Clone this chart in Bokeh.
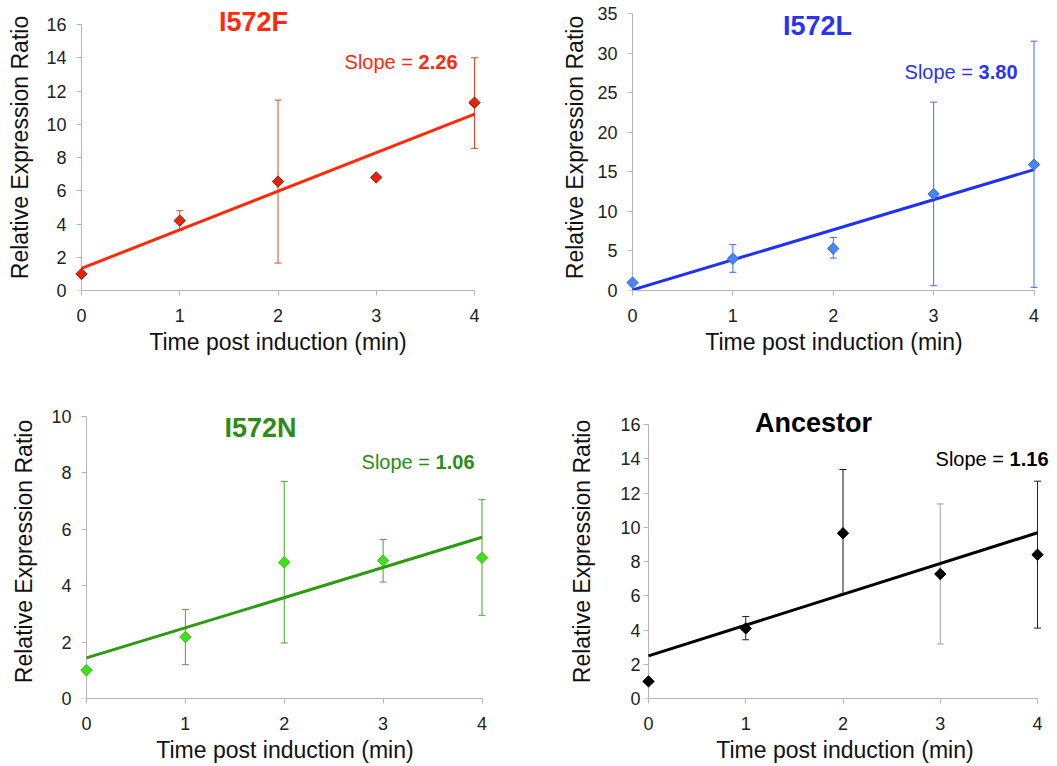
import numpy as np
from bokeh.plotting import figure
from bokeh.models import ColumnDataSource, Label, FixedTicker, Range1d, LinearAxis
from bokeh.layouts import column, row
from bokeh.embed import file_html
from bokeh.resources import INLINE

# ---------------- data ----------------
time_min = [0, 1, 2, 3, 4]

i572f_ratio = [1.0, 4.2, 6.55, 6.8, 11.3]
i572f_err_hi = [None, 4.8, 11.45, None, 14.0]
i572f_err_lo = [None, 3.6, 1.65, None, 8.55]

i572l_ratio = [1.0, 4.0, 5.3, 12.2, 15.9]
i572l_err_hi = [None, 5.8, 6.7, 23.8, 31.5]
i572l_err_lo = [None, 2.3, 4.1, 0.6, 0.4]

i572n_ratio = [1.0, 2.18, 4.83, 4.89, 4.99]
i572n_err_hi = [None, 3.16, 7.7, 5.64, 7.05]
i572n_err_lo = [None, 1.2, 1.97, 4.13, 2.95]

ancestor_ratio = [1.0, 4.09, 9.65, 7.27, 8.4]
ancestor_err_hi = [None, 4.79, 13.37, 11.36, 12.69]
ancestor_err_lo = [None, 3.43, 6.1, 3.18, 4.11]

panel_titles = ["I572F", "I572L", "I572N", "Ancestor"]
slope_labels = ["2.26", "3.80", "1.06", "1.16"]
x_ticks = [0, 1, 2, 3, 4]
y_ticks_f = [0, 2, 4, 6, 8, 10, 12, 14, 16]
y_ticks_l = [0, 5, 10, 15, 20, 25, 30, 35]
y_ticks_n = [0, 2, 4, 6, 8, 10]
y_ticks_a = [0, 2, 4, 6, 8, 10, 12, 14, 16]

x_label = "Time post induction (min)"
y_label = "Relative Expression Ratio"

FONT = "Liberation Sans"
AXIS_GRAY = "#b5b5b5"


def make_panel(ratio, hi, lo, yticks, title, slope, st):
    fig_left, fig_top, fig_w, fig_h = st["fig"]
    x0px, x4px, ytick_top_px = st["xy_px"]
    frame_top, frame_bot = st["frame_v"]
    pad_l, pad_r = st["pad"]
    frame_left = x0px - pad_l
    bl = int(round(frame_left - fig_left))
    fw = int(round((x4px - x0px) + pad_l + pad_r))
    br = int(fig_w - bl - fw)
    bt = int(frame_top - fig_top)
    fh = int(frame_bot - frame_top)
    bb = int(fig_h - bt - fh)
    ppx = (x4px - x0px) / (x_ticks[-1] - x_ticks[0])
    ymin, ymax = yticks[0], yticks[-1]
    ppy = (frame_bot - ytick_top_px) / (ymax - ymin)
    y_end = ymax + (ytick_top_px - frame_top) / ppy

    p = figure(frame_width=fw, frame_height=fh,
               min_border_left=bl, min_border_right=br,
               min_border_top=bt, min_border_bottom=bb,
               x_range=Range1d(x_ticks[0] - pad_l / ppx, x_ticks[-1] + pad_r / ppx),
               y_range=Range1d(ymin, y_end),
               x_axis_location=None, y_axis_location=None,
               output_backend="svg", toolbar_location=None, title=None)
    p.outline_line_color = None
    p.background_fill_color = "white"
    p.border_fill_color = "white"
    p.xgrid.visible = False
    p.ygrid.visible = False

    def style_axis(ax):
        ax.axis_line_color = AXIS_GRAY
        ax.major_tick_line_color = AXIS_GRAY
        ax.minor_tick_line_color = None
        ax.major_tick_out = 5
        ax.major_tick_in = 0
        ax.major_label_text_font = FONT
        ax.major_label_text_font_size = "18px"
        ax.major_label_text_color = "#222222"
        ax.axis_label_text_font = FONT
        ax.axis_label_text_font_size = "23px"
        ax.axis_label_text_font_style = "normal"
        ax.axis_label_text_color = "#111111"

    # x axis (normal, below)
    xa = LinearAxis(ticker=FixedTicker(ticks=x_ticks), bounds=(x_ticks[0], x_ticks[-1]),
                    axis_label=x_label)
    style_axis(xa)
    xa.major_label_standoff = 13
    xa.axis_label_standoff = 4
    p.add_layout(xa, "below")

    # y axis: labels only, in the left border
    ya = LinearAxis(ticker=FixedTicker(ticks=yticks), bounds=(ymin, ymax), axis_label=y_label)
    style_axis(ya)
    ya.axis_line_color = None
    ya.major_tick_line_color = None
    ya.major_tick_out = 0
    ya.major_label_standoff = st["ytick_standoff"]
    ya.axis_label_standoff = st["ylab_standoff"]
    p.add_layout(ya, "left")

    # y axis line and ticks, placed at x = 0
    yl = LinearAxis(ticker=FixedTicker(ticks=yticks), bounds=(ymin, ymax),
                    fixed_location=x_ticks[0], level="underlay")
    style_axis(yl)
    yl.major_label_text_font_size = "0px"
    yl.major_label_text_alpha = 0
    p.add_layout(yl, "left")

    # error bars: stems and caps as glyphs
    ex, ehi, elo, ec = [], [], [], []
    for t, h, l, c in zip(time_min, hi, lo, st["err_colors"]):
        if h is None or l is None:
            continue
        ex.append(t)
        ehi.append(h)
        elo.append(l)
        ec.append(c)
    esrc = ColumnDataSource(dict(x=ex, hi=ehi, lo=elo, c=ec))
    p.segment(x0="x", y0="lo", x1="x", y1="hi", source=esrc, line_color="c", line_width=1)
    p.scatter(x="x", y="hi", source=esrc, marker="dash", size=7, line_color="c", line_width=1)
    p.scatter(x="x", y="lo", source=esrc, marker="dash", size=7, line_color="c", line_width=1)

    # least-squares trend line
    slope_fit, icpt = np.polyfit(time_min, ratio, 1)
    tx = [time_min[0], time_min[-1]]
    ty = [icpt + slope_fit * v for v in tx]
    p.line(tx, ty, line_color=st["line_color"], line_width=3)

    p.scatter(time_min, ratio, marker="square", angle=np.pi / 4, size=8,
              fill_color=st["marker_fill"], line_color=st["marker_line"], line_width=1)

    # title and slope annotation (screen units relative to the frame)
    tx_px, ty_px = st["title_pos"]
    p.add_layout(Label(x=tx_px - frame_left, y=frame_bot - ty_px,
                       x_units="screen", y_units="screen",
                       text=title, text_font=FONT, text_font_size="27px",
                       text_font_style="bold", text_color=st["title_color"],
                       text_align="center", text_baseline="middle"))
    sx_right, sy = st["slope_pos"]
    num_w = 1.946 * 20
    p.add_layout(Label(x=sx_right - frame_left, y=frame_bot - sy,
                       x_units="screen", y_units="screen",
                       text=slope, text_font=FONT, text_font_size="20px",
                       text_font_style="bold", text_color=st["title_color"],
                       text_align="right", text_baseline="middle"))
    p.add_layout(Label(x=sx_right - num_w - 5.6 - frame_left, y=frame_bot - sy,
                       x_units="screen", y_units="screen",
                       text="Slope =", text_font=FONT, text_font_size="20px",
                       text_color=st["title_color"],
                       text_align="right", text_baseline="middle"))
    return p


TOP_FRAME = (4, 290)
BOT_FRAME = (404, 698)

style_f = dict(fig=(0, 0, 530, 362), xy_px=(81, 474, 24), frame_v=TOP_FRAME, pad=(8, 8),
               ytick_standoff=7, ylab_standoff=10,
               err_colors=["#f0402a"] * 5, line_color="#ff2a0a",
               marker_fill="#e8230c", marker_line="#8c1c0c", title_color="#ff2a0a",
               title_pos=(253, 21.3), slope_pos=(457, 61.3))
style_l = dict(fig=(530, 0, 527, 362), xy_px=(632, 1033.5, 13), frame_v=TOP_FRAME, pad=(8, 9.5),
               ytick_standoff=7, ylab_standoff=6,
               err_colors=["#3f6cf0"] * 5, line_color="#2030f5",
               marker_fill="#4a86f0", marker_line="#3566d8", title_color="#2a33f2",
               title_pos=(817, 25.5), slope_pos=(1017, 71))
style_n = dict(fig=(0, 362, 530, 404), xy_px=(86, 481.5, 416), frame_v=BOT_FRAME, pad=(8, 9.5),
               ytick_standoff=7, ylab_standoff=11,
               err_colors=["#4aa535"] * 5, line_color="#2e9a12",
               marker_fill="#40e01a", marker_line="#34b818", title_color="#2b8c16",
               title_pos=(260, 427.8), slope_pos=(474, 461))
style_a = dict(fig=(530, 362, 527, 404), xy_px=(648, 1037, 424), frame_v=BOT_FRAME, pad=(8, 12),
               ytick_standoff=0, ylab_standoff=22,
               err_colors=["#111111", "#222222", "#111111", "#a0a0a0", "#222222"],
               line_color="#000000",
               marker_fill="#000000", marker_line="#000000", title_color="#000000",
               title_pos=(813, 422), slope_pos=(1048, 458.3))

p1 = make_panel(i572f_ratio, i572f_err_hi, i572f_err_lo, y_ticks_f, panel_titles[0], slope_labels[0], style_f)
p2 = make_panel(i572l_ratio, i572l_err_hi, i572l_err_lo, y_ticks_l, panel_titles[1], slope_labels[1], style_l)
p3 = make_panel(i572n_ratio, i572n_err_hi, i572n_err_lo, y_ticks_n, panel_titles[2], slope_labels[2], style_n)
p4 = make_panel(ancestor_ratio, ancestor_err_hi, ancestor_err_lo, y_ticks_a, panel_titles[3], slope_labels[3], style_a)

layout = column(row(p1, p2), row(p3, p4))
open("out.html", "w").write(file_html(layout, INLINE))
